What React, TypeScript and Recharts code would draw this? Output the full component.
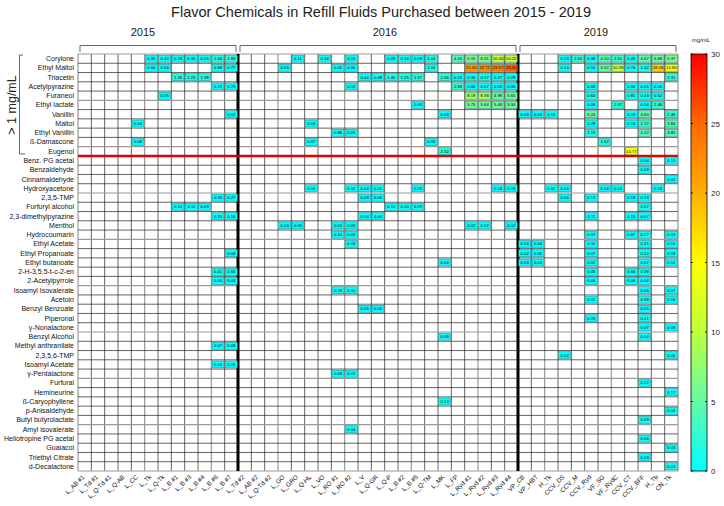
import React from 'react';
import { ScatterChart, Scatter, XAxis, YAxis, ReferenceLine } from 'recharts';

const W = 724, H = 506;
const PL = 78, PR = 678, PT = 54, PB = 471;
const FONT = '"Liberation Sans", Arial, sans-serif';

const rows = ['Corylone','Ethyl Maltol','Triacetin','Acetylpyrazine','Furaneol','Ethyl lactate','Vanillin','Maltol','Ethyl Vanillin','ß-Damascone','Eugenol','Benz. PG acetal','Benzaldehyde','Cinnamaldehyde','Hydroxyacetone','2,3,5-TMP','Furfuryl alcohol','2,3-dimethylpyrazine','Menthol','Hydrocoumarin','Ethyl Acetate','Ethyl Propanoate','Ethyl butanoate','2-H-3,5,5-t-c-2-en','2-Acetylpyrrole','Isoamyl Isovalerate','Acetoin','Benzyl Benzoate','Piperonal','γ-Nonalactone','Benzyl Alcohol','Methyl anthranilate','2,3,5,6-TMP','Isoamyl Acetate','γ-Pentalactone','Furfural','Hemineurine','ß-Caryophyllene','p-Anisaldehyde','Butyl butyrolactate','Amyl isovalerate','Heliotropine PG acetal','Guaiacol','Triethyl Citrate','d-Decalactone'];

const cols2015 = ['L_AB #1','L_Td #1','L_Q-Td #1','L_Q-AB','L_CC','L_Tk','L_Q-Tk','L_B #1','L_B #3','L_B #4','L_B #6','L_B #7'];
const cols2016 = ['L_Td #2','L_AB #2','L_Q-Td #2','L_GO','L_GRO','L_Q-HL','L_VO','L_RO #1','L_RO #2','L_V','L_Q-GR','L_Q-P','L_B #2','L_B #5','L_Q-TM','L_MK','L_FP','L_Ryd #1','L_Ryd #2','L_Ryd #3','L_Ryd #4'];
const cols2019 = ['VP_CB','VP_HBT','H_Tk','CCV_DS','CCV_M','CCV_Ryd','VF_SG','VF_RydC','CCV_CT','CCV_BFF','H_Tb','CN_Tk'];
const cols = [...cols2015, ...cols2016, ...cols2019];

type Cell = [string, string, number];

const cells2015: Cell[] = [
  ['Corylone','L_Tk',0.33],['Corylone','L_Q-Tk',0.42],['Corylone','L_B #1',0.29],['Corylone','L_B #3',0.35],['Corylone','L_B #4',0.25],['Corylone','L_B #6',1.63],['Corylone','L_B #7',1.93],
  ['Ethyl Maltol','L_Tk',0.04],['Ethyl Maltol','L_Q-Tk',0.04],['Ethyl Maltol','L_B #6',0.68],['Ethyl Maltol','L_B #7',0.77],
  ['Triacetin','L_B #1',1.26],['Triacetin','L_B #3',1.23],['Triacetin','L_B #4',1.38],
  ['Acetylpyrazine','L_B #6',0.28],['Acetylpyrazine','L_B #7',0.29],
  ['Furaneol','L_Q-Tk',0.05],
  ['Vanillin','L_B #7',0.02],
  ['Maltol','L_CC',0.04],
  ['ß-Damascone','L_CC',0.08],
  ['2,3,5-TMP','L_B #6',0.25],['2,3,5-TMP','L_B #7',0.27],
  ['Furfuryl alcohol','L_B #1',0.10],['Furfuryl alcohol','L_B #3',0.11],['Furfuryl alcohol','L_B #4',0.09],
  ['2,3-dimethylpyrazine','L_B #6',0.15],['2,3-dimethylpyrazine','L_B #7',0.16],
  ['Ethyl Propanoate','L_B #7',0.04],
  ['2-H-3,5,5-t-c-2-en','L_B #6',0.41],['2-H-3,5,5-t-c-2-en','L_B #7',0.55],
  ['2-Acetylpyrrole','L_B #6',0.03],['2-Acetylpyrrole','L_B #7',0.03],
  ['Methyl anthranilate','L_B #6',0.07],['Methyl anthranilate','L_B #7',0.08],
  ['Isoamyl Acetate','L_B #6',0.04],['Isoamyl Acetate','L_B #7',0.05],
];

const cells2016: Cell[] = [
  ['Corylone','L_GRO',0.11],['Corylone','L_VO',0.34],['Corylone','L_RO #2',0.03],['Corylone','L_Q-P',0.09],['Corylone','L_B #2',0.34],['Corylone','L_B #5',0.09],['Corylone','L_Q-TM',1.04],['Corylone','L_FP',4.16],['Corylone','L_Ryd #1',6.16],['Corylone','L_Ryd #2',6.31],['Corylone','L_Ryd #3',10.40],['Corylone','L_Ryd #4',10.22],
  ['Ethyl Maltol','L_GO',0.03],['Ethyl Maltol','L_RO #1',0.02],['Ethyl Maltol','L_RO #2',0.05],['Ethyl Maltol','L_Q-TM',1.04],['Ethyl Maltol','L_Ryd #1',21.60],['Ethyl Maltol','L_Ryd #2',22.77],['Ethyl Maltol','L_Ryd #3',23.57],['Ethyl Maltol','L_Ryd #4',25.60],
  ['Triacetin','L_V',0.44],['Triacetin','L_Q-GR',0.48],['Triacetin','L_Q-P',1.40],['Triacetin','L_B #2',1.25],['Triacetin','L_B #5',1.57],['Triacetin','L_MK',2.06],['Triacetin','L_FP',0.24],['Triacetin','L_Ryd #1',0.36],['Triacetin','L_Ryd #2',0.37],['Triacetin','L_Ryd #3',0.27],['Triacetin','L_Ryd #4',0.29],
  ['Acetylpyrazine','L_RO #2',0.02],['Acetylpyrazine','L_FP',2.69],['Acetylpyrazine','L_Ryd #1',0.06],['Acetylpyrazine','L_Ryd #2',0.07],['Acetylpyrazine','L_Ryd #3',0.03],['Acetylpyrazine','L_Ryd #4',0.05],
  ['Furaneol','L_Ryd #1',8.19],['Furaneol','L_Ryd #2',8.38],['Furaneol','L_Ryd #3',4.98],['Furaneol','L_Ryd #4',5.65],
  ['Ethyl lactate','L_B #5',0.03],['Ethyl lactate','L_Ryd #1',5.75],['Ethyl lactate','L_Ryd #2',5.64],['Ethyl lactate','L_Ryd #3',5.48],['Ethyl lactate','L_Ryd #4',5.34],
  ['Vanillin','L_MK',0.03],
  ['Maltol','L_Q-HL',0.03],
  ['Ethyl Vanillin','L_RO #1',0.86],['Ethyl Vanillin','L_RO #2',0.05],
  ['ß-Damascone','L_Q-HL',0.07],['ß-Damascone','L_Q-TM',0.05],
  ['Eugenol','L_MK',2.32],
  ['Hydroxyacetone','L_Q-HL',0.06],['Hydroxyacetone','L_RO #2',0.02],['Hydroxyacetone','L_V',0.04],['Hydroxyacetone','L_Q-GR',0.05],['Hydroxyacetone','L_B #5',0.06],['Hydroxyacetone','L_Ryd #3',0.03],['Hydroxyacetone','L_Ryd #4',0.03],
  ['2,3,5-TMP','L_V',0.09],['2,3,5-TMP','L_Q-GR',0.06],
  ['Furfuryl alcohol','L_Q-P',0.10],['Furfuryl alcohol','L_B #2',0.10],['Furfuryl alcohol','L_B #5',0.09],
  ['2,3-dimethylpyrazine','L_V',0.04],['2,3-dimethylpyrazine','L_Q-GR',0.04],
  ['Menthol','L_GO',0.03],['Menthol','L_GRO',0.05],['Menthol','L_RO #1',0.03],['Menthol','L_RO #2',0.03],['Menthol','L_Ryd #1',0.02],['Menthol','L_Ryd #2',0.02],['Menthol','L_Ryd #4',0.02],
  ['Hydrocoumarin','L_RO #1',0.10],['Hydrocoumarin','L_RO #2',0.03],
  ['Ethyl Acetate','L_RO #2',0.03],
  ['Ethyl butanoate','L_MK',0.04],
  ['Isoamyl Isovalerate','L_RO #1',0.25],['Isoamyl Isovalerate','L_RO #2',0.30],
  ['Benzyl Benzoate','L_V',0.05],['Benzyl Benzoate','L_Q-GR',0.06],
  ['Benzyl Alcohol','L_MK',0.08],
  ['γ-Pentalactone','L_RO #1',0.03],['γ-Pentalactone','L_RO #2',0.03],
  ['ß-Caryophyllene','L_MK',0.13],
  ['Amyl isovalerate','L_RO #2',0.04],
];

const cells2019: Cell[] = [
  ['Corylone','CCV_DS',0.23],['Corylone','CCV_M',2.63],['Corylone','CCV_Ryd',0.38],['Corylone','VF_SG',4.10],['Corylone','VF_RydC',2.51],['Corylone','CCV_CT',0.49],['Corylone','CCV_BFF',4.67],['Corylone','H_Tb',5.68],['Corylone','CN_Tk',6.37],
  ['Ethyl Maltol','CCV_DS',0.14],['Ethyl Maltol','CCV_Ryd',0.51],['Ethyl Maltol','VF_SG',5.52],['Ethyl Maltol','VF_RydC',10.39],['Ethyl Maltol','CCV_CT',0.74],['Ethyl Maltol','CCV_BFF',1.42],['Ethyl Maltol','H_Tb',18.08],['Ethyl Maltol','CN_Tk',14.80],
  ['Triacetin','CN_Tk',2.31],
  ['Acetylpyrazine','CCV_Ryd',0.09],['Acetylpyrazine','CCV_CT',0.06],['Acetylpyrazine','CCV_BFF',0.05],['Acetylpyrazine','H_Tb',0.05],
  ['Furaneol','CCV_Ryd',0.64],['Furaneol','CCV_CT',0.81],['Furaneol','CCV_BFF',0.43],['Furaneol','H_Tb',0.52],
  ['Ethyl lactate','CCV_Ryd',0.03],['Ethyl lactate','VF_RydC',2.07],['Ethyl lactate','CCV_BFF',0.14],['Ethyl lactate','H_Tb',2.48],
  ['Vanillin','VP_CB',0.03],['Vanillin','VP_HBT',0.03],['Vanillin','H_Tk',0.15],['Vanillin','CCV_Ryd',5.24],['Vanillin','CCV_CT',0.03],['Vanillin','CCV_BFF',4.60],['Vanillin','CN_Tk',2.46],
  ['Maltol','CCV_Ryd',0.28],['Maltol','CCV_CT',0.15],['Maltol','CCV_BFF',2.72],['Maltol','CN_Tk',3.84],
  ['Ethyl Vanillin','CCV_Ryd',1.19],['Ethyl Vanillin','CCV_BFF',4.12],['Ethyl Vanillin','CN_Tk',3.85],
  ['ß-Damascone','VF_SG',1.52],
  ['Eugenol','CCV_CT',14.77],
  ['Benz. PG acetal','CCV_BFF',0.04],['Benz. PG acetal','CN_Tk',0.10],
  ['Benzaldehyde','CCV_BFF',0.03],
  ['Cinnamaldehyde','CN_Tk',0.02],
  ['Hydroxyacetone','H_Tk',0.02],['Hydroxyacetone','CCV_DS',0.04],['Hydroxyacetone','VF_SG',0.04],['Hydroxyacetone','VF_RydC',0.03],['Hydroxyacetone','H_Tb',0.04],
  ['2,3,5-TMP','CCV_DS',0.04],['2,3,5-TMP','CCV_Ryd',0.13],['2,3,5-TMP','CCV_CT',0.19],['2,3,5-TMP','CCV_BFF',0.13],
  ['Furfuryl alcohol','CCV_BFF',0.57],
  ['2,3-dimethylpyrazine','CCV_Ryd',0.11],['2,3-dimethylpyrazine','CCV_CT',0.15],['2,3-dimethylpyrazine','CCV_BFF',0.07],
  ['Hydrocoumarin','CCV_Ryd',0.57],['Hydrocoumarin','CCV_CT',0.07],['Hydrocoumarin','CCV_BFF',0.27],['Hydrocoumarin','CN_Tk',0.03],
  ['Ethyl Acetate','VP_CB',0.04],['Ethyl Acetate','VP_HBT',0.04],['Ethyl Acetate','CCV_Ryd',0.11],['Ethyl Acetate','CCV_BFF',0.21],['Ethyl Acetate','CN_Tk',0.16],
  ['Ethyl Propanoate','VP_CB',0.02],['Ethyl Propanoate','VP_HBT',0.02],['Ethyl Propanoate','CCV_Ryd',0.07],['Ethyl Propanoate','CCV_BFF',0.14],['Ethyl Propanoate','CN_Tk',0.19],
  ['Ethyl butanoate','VP_CB',0.03],['Ethyl butanoate','VP_HBT',0.03],['Ethyl butanoate','CCV_Ryd',0.02],['Ethyl butanoate','CCV_BFF',0.07],['Ethyl butanoate','CN_Tk',0.12],
  ['2-H-3,5,5-t-c-2-en','CCV_Ryd',0.46],['2-H-3,5,5-t-c-2-en','CCV_CT',0.66],['2-H-3,5,5-t-c-2-en','CCV_BFF',0.38],
  ['2-Acetylpyrrole','CCV_Ryd',0.05],['2-Acetylpyrrole','CCV_CT',0.06],['2-Acetylpyrrole','CCV_BFF',0.04],
  ['Isoamyl Isovalerate','CCV_BFF',0.05],['Isoamyl Isovalerate','CN_Tk',0.07],
  ['Acetoin','CCV_Ryd',0.02],['Acetoin','CCV_BFF',0.99],['Acetoin','CN_Tk',0.16],
  ['Benzyl Benzoate','CCV_BFF',0.05],
  ['Piperonal','CCV_Ryd',0.08],['Piperonal','CCV_BFF',0.41],
  ['γ-Nonalactone','CCV_BFF',0.07],['γ-Nonalactone','CN_Tk',0.08],
  ['Benzyl Alcohol','CCV_BFF',0.04],
  ['2,3,5,6-TMP','CCV_DS',0.02],['2,3,5,6-TMP','CN_Tk',0.06],
  ['Furfural','CCV_BFF',0.22],
  ['Hemineurine','CN_Tk',0.17],
  ['p-Anisaldehyde','CN_Tk',0.06],
  ['Butyl butyrolactate','CCV_BFF',0.09],
  ['Heliotropine PG acetal','CCV_BFF',0.06],
  ['Guaiacol','CN_Tk',0.03],
  ['Triethyl Citrate','CCV_BFF',0.03],
  ['d-Decalactone','CN_Tk',0.03],
];

const years = ['2015', '2016', '2019'];
const colorTicks = [0, 5, 10, 15, 20, 25, 30];

const colorStops: [number, number[]][] = [
  [0, [0, 255, 255]],
  [5, [100, 250, 165]],
  [10, [190, 255, 60]],
  [15, [255, 255, 0]],
  [20, [255, 175, 0]],
  [25, [255, 105, 0]],
  [30, [255, 0, 0]],
];

function colorFor(v: number) {
  for (let i = 0; i < colorStops.length - 1; i++) {
    const [a, ca] = colorStops[i];
    const [b, cb] = colorStops[i + 1];
    if (v <= b) {
      const t = (v - a) / (b - a);
      const c = ca.map((x, k) => Math.round(x + (cb[k] - x) * t));
      return `rgb(${c[0]},${c[1]},${c[2]})`;
    }
  }
  return 'rgb(255,0,0)';
}

const toPoints = (list: Cell[]) => list.map(([r, c, v]) => ({ x: cols.indexOf(c), y: rows.indexOf(r), v }));
const data = [...toPoints(cells2015), ...toPoints(cells2016), ...toPoints(cells2019)];

const NC = cols.length, NR = rows.length;
const CW = (PR - PL) / NC, CH = (PB - PT) / NR;
const colIdx = cols.map((_, i) => i);
const rowIdx = rows.map((_, i) => i);

const CellShape = (props: any) => {
  const { cx, cy, payload } = props;
  const w = CW - 1.4, h = CH - 2.2;
  return (
    <g>
      <rect x={cx - w / 2} y={cy - h / 2} width={w} height={h} fill={colorFor(payload.v)} stroke="#2a7a7a" strokeWidth={0.5} />
      <text x={cx} y={cy + 1.4} fontSize={4.2} textAnchor="middle" fill="#000" fontFamily={FONT}>{payload.v.toFixed(2)}</text>
    </g>
  );
};

const RowTick = (p: any) => (
  <text x={PL - 4} y={p.y} dy={2.4} textAnchor="end" fontSize={7} fill="#111" fontFamily={FONT}>{rows[p.payload.value]}</text>
);

const ColTick = (p: any) => {
  const x = p.x - 1, y = PB + 5;
  return (
    <text x={x} y={y} dy={2} transform={`rotate(-45 ${x} ${y})`} textAnchor="end" fontSize={6.3} fill="#111" fontFamily={FONT}>{cols[p.payload.value]}</text>
  );
};

const grayLine = (i: number) => i % 5 === 0;

export default function App() {
  const yearSpans = [
    [0, cols2015.length],
    [cols2015.length, cols2015.length + cols2016.length],
    [cols2015.length + cols2016.length, NC],
  ];
  const yearLabelShift = [-15, 7, -2];
  const cbX = 691, cbW = 16;
  const cbY = (v: number) => PB - (v / 30) * (PB - PT);
  return (
    <div style={{ position: 'absolute', left: 0, top: 0, width: W, height: H, background: '#fff' }}>
      <ScatterChart width={W} height={H} margin={{ top: PT, right: W - PR, bottom: 5, left: 8 }}>
        <XAxis type="number" dataKey="x" domain={[-0.5, NC - 0.5]} ticks={colIdx} interval={0} tick={<ColTick />} axisLine={false} tickLine={false} height={H - PB - 5} allowDataOverflow />
        <YAxis type="number" dataKey="y" domain={[-0.5, NR - 0.5]} reversed ticks={rowIdx} interval={0} tick={<RowTick />} axisLine={false} tickLine={false} width={PL - 8} allowDataOverflow />
        {Array.from({ length: NC + 1 }, (_, i) => (
          <ReferenceLine key={'v' + i} x={i - 0.5} stroke={grayLine(i) ? '#999' : '#222'} strokeWidth={grayLine(i) ? 1.2 : 0.7} />
        ))}
        {Array.from({ length: NR + 1 }, (_, i) => (
          <ReferenceLine key={'h' + i} y={i - 0.5} stroke={grayLine(i) ? '#999' : '#222'} strokeWidth={grayLine(i) ? 1.2 : 0.7} />
        ))}
        <ReferenceLine x={cols2015.length - 0.5} stroke="#000" strokeWidth={3} />
        <ReferenceLine x={cols2015.length + cols2016.length - 0.5} stroke="#000" strokeWidth={3} />
        <ReferenceLine y={10.5} stroke="#e00000" strokeWidth={2.5} />
        <Scatter data={data} shape={<CellShape />} isAnimationActive={false} />
      </ScatterChart>
      <svg width={W} height={H} style={{ position: 'absolute', left: 0, top: 0, pointerEvents: 'none' }} fontFamily={FONT}>
        <defs>
          <linearGradient id="cb" x1="0" y1="1" x2="0" y2="0">
            {colorStops.map(([v, c]) => (
              <stop key={v} offset={`${(v / 30) * 100}%`} stopColor={`rgb(${c[0]},${c[1]},${c[2]})`} />
            ))}
          </linearGradient>
        </defs>
        <text x={381} y={17} textAnchor="middle" fontSize={14.5} fill="#222">Flavor Chemicals in Refill Fluids Purchased between 2015 - 2019</text>
        {yearSpans.map(([a, b], k) => {
          const x1 = PL + a * CW + 2, x2 = PL + b * CW - 2;
          return (
            <g key={k}>
              <text x={(x1 + x2) / 2 + yearLabelShift[k]} y={36} textAnchor="middle" fontSize={11} fill="#222">{years[k]}</text>
              <path d={`M${x1},52 L${x1},45.5 L${x2},45.5 L${x2},52`} fill="none" stroke="#666" strokeWidth={1} />
            </g>
          );
        })}
        <path d={`M23,${PT + 1} L19.5,${PT + 1} L19.5,${PT + 11 * CH - 2} L25,${PT + 11 * CH - 2}`} fill="none" stroke="#666" strokeWidth={1} />
        <text x={0} y={0} transform={`translate(16,${PT + 5.5 * CH}) rotate(-90)`} textAnchor="middle" fontSize={12.5} fill="#222">&gt; 1 mg/mL</text>
        <text x={cbX + cbW / 2 + 2} y={42} textAnchor="middle" fontSize={6} fill="#222">mg/mL</text>
        <rect x={cbX} y={PT} width={cbW} height={PB - PT} fill="url(#cb)" stroke="#000" strokeWidth={0.8} />
        {colorTicks.map((t) => (
          <g key={t}>
            <line x1={cbX} x2={cbX + 2} y1={cbY(t)} y2={cbY(t)} stroke="#000" strokeWidth={0.8} />
            <line x1={cbX + cbW - 2} x2={cbX + cbW} y1={cbY(t)} y2={cbY(t)} stroke="#000" strokeWidth={0.8} />
            <text x={cbX + cbW + 4} y={cbY(t) + 3} fontSize={8} fill="#222">{t}</text>
          </g>
        ))}
      </svg>
    </div>
  );
}
